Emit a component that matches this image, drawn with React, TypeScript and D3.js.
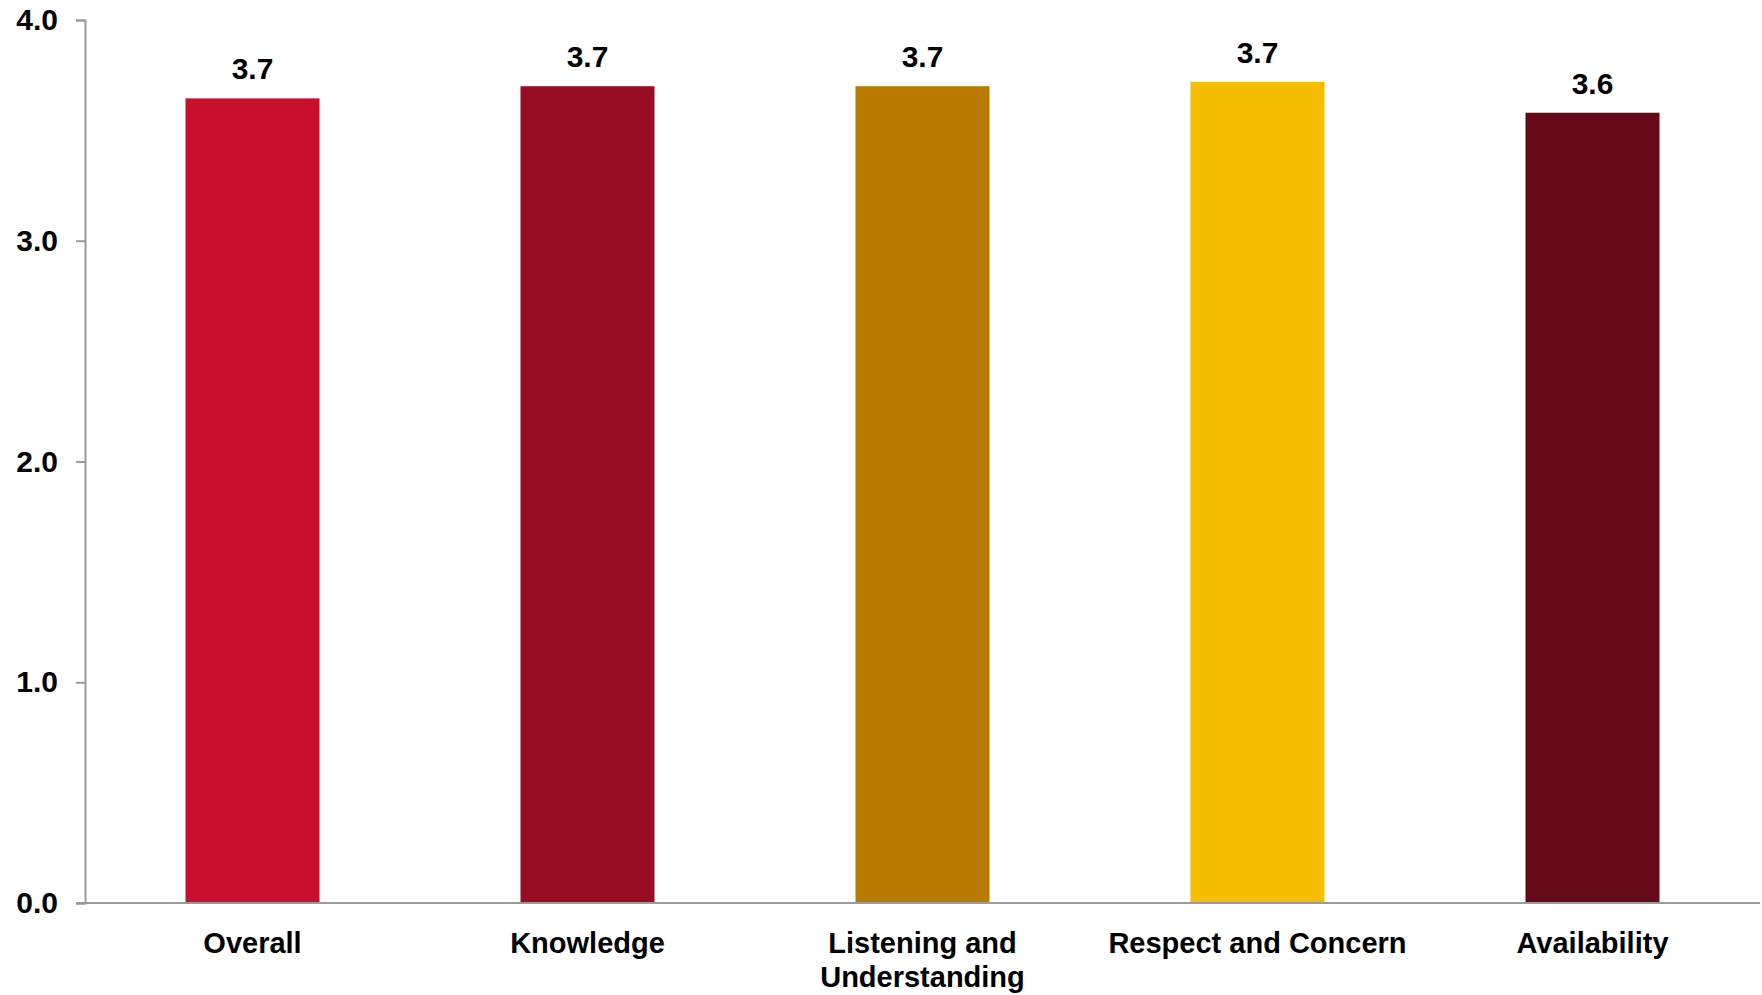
import React, { useEffect, useRef } from "react";
import * as d3 from "d3";

// Chart data
const categories = [
  "Overall",
  "Knowledge",
  "Listening and Understanding",
  "Respect and Concern",
  "Availability",
];
const values = [3.645, 3.7, 3.7, 3.72, 3.58];
const valueLabels = ["3.7", "3.7", "3.7", "3.7", "3.6"];
// how each category label breaks onto lines
const categoryLines = [
  ["Overall"],
  ["Knowledge"],
  ["Listening and", "Understanding"],
  ["Respect and Concern"],
  ["Availability"],
];
const yTicks = [0, 1, 2, 3, 4];
const barColors = ["#C8102E", "#990D23", "#B97A00", "#F5BF00", "#650918"];

const App = () => {
  const ref = useRef<SVGSVGElement | null>(null);

  useEffect(() => {
    document.body.style.margin = "0";

    const width = 1762;
    const height = 995;
    const margin = { top: 20, right: 2, bottom: 92, left: 85 };
    const font = "Liberation Sans, Arial, sans-serif";

    const svg = d3.select(ref.current);
    svg.selectAll("*").remove();

    const x = d3
      .scaleBand<string>()
      .domain(categories)
      .range([margin.left, width - margin.right])
      .paddingInner(0.6)
      .paddingOuter(0.3);

    const y = d3
      .scaleLinear()
      .domain([0, 4])
      .range([height - margin.bottom, margin.top]);

    const axisColor = "#9a9a9a";

    // Bars
    svg
      .append("g")
      .selectAll("rect")
      .data(values)
      .enter()
      .append("rect")
      .attr("x", (_, i) => x(categories[i])!)
      .attr("width", x.bandwidth())
      .attr("y", (d) => y(d))
      .attr("height", (d) => y(0) - y(d))
      .attr("fill", (_, i) => barColors[i]);

    // Value labels
    svg
      .append("g")
      .selectAll("text")
      .data(values)
      .enter()
      .append("text")
      .attr("x", (_, i) => x(categories[i])! + x.bandwidth() / 2)
      .attr("y", (d) => y(d) - 19)
      .attr("text-anchor", "middle")
      .attr("font-family", font)
      .attr("font-weight", "bold")
      .attr("font-size", 30)
      .attr("fill", "#000")
      .text((_, i) => valueLabels[i]);

    // Y axis
    const yAxis = svg
      .append("g")
      .attr("transform", `translate(${margin.left},0)`)
      .call(
        d3
          .axisLeft(y)
          .tickValues(yTicks)
          .tickFormat(d3.format(".1f"))
          .tickSize(9)
          .tickPadding(18)
      );
    yAxis.select(".domain").attr("stroke", axisColor).attr("stroke-width", 2);
    yAxis.selectAll(".tick line").attr("stroke", axisColor).attr("stroke-width", 2);
    yAxis
      .selectAll(".tick text")
      .attr("font-family", font)
      .attr("font-weight", "bold")
      .attr("font-size", 30)
      .attr("fill", "#000");

    // X axis baseline
    svg
      .append("line")
      .attr("x1", margin.left - 9)
      .attr("x2", width - margin.right)
      .attr("y1", y(0))
      .attr("y2", y(0))
      .attr("stroke", axisColor)
      .attr("stroke-width", 2);

    // Category labels
    const catText = svg
      .append("g")
      .selectAll("text")
      .data(categories)
      .enter()
      .append("text")
      .attr("text-anchor", "middle")
      .attr("font-family", font)
      .attr("font-weight", "bold")
      .attr("font-size", 29)
      .attr("fill", "#000");

    catText.each(function (d, i) {
      const t = d3.select(this);
      categoryLines[i].forEach((line, j) => {
        t.append("tspan")
          .attr("x", x(d)! + x.bandwidth() / 2)
          .attr("y", y(0) + 50 + j * 34)
          .text(line);
      });
    });
  }, []);

  return (
    <div style={{ position: "absolute", left: 0, top: 0 }}>
      <svg ref={ref} width={1762} height={995} style={{ display: "block", background: "#fff" }} />
    </div>
  );
};

export default App;
